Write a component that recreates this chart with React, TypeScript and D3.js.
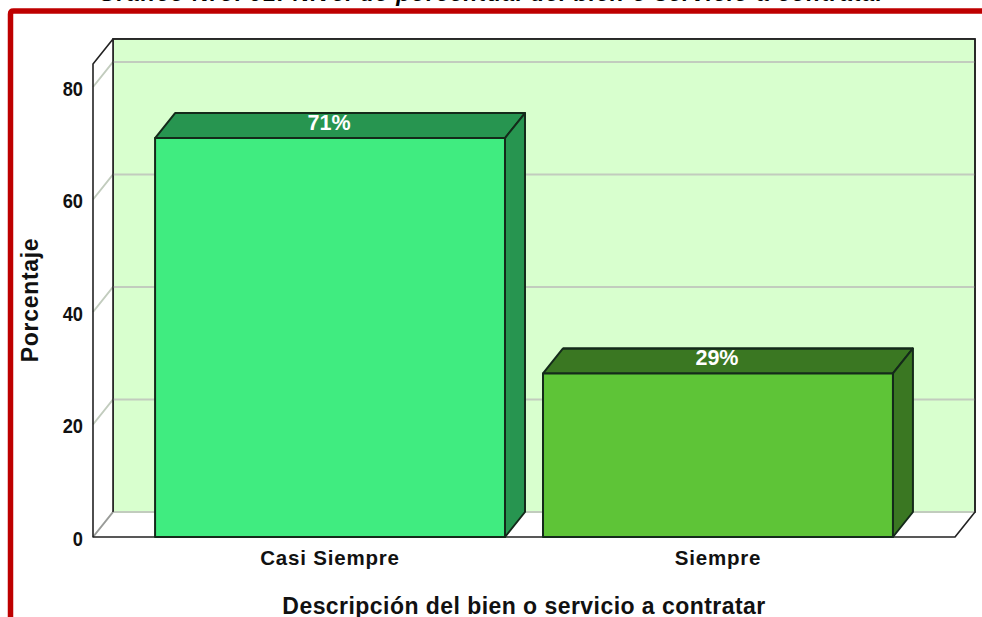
import React from "react";
import * as d3 from "d3";

const categories = ["Casi Siempre", "Siempre"];
const values = [70.93, 29.07];
const valueLabels = ["71%", "29%"];
const yTicks = [0, 20, 40, 60, 80];
const frontColors = ["#40EC80", "#5EC437"];
const sideColors = ["#279550", "#3A7722"];
const titleText = "Gráfico Nro. 01: Nivel de porcentual del bien o servicio a contratar";
const xTitle = "Descripción del bien o servicio a contratar";
const yTitle = "Porcentaje";

const FONT = "'Liberation Sans', Arial, sans-serif";
const x0 = 93, x1 = 955, floorY = 537;
const dx = 20, dy = -25;
const yMax = 84.1;

export default function App() {
  const y = d3.scaleLinear().domain([0, yMax]).range([floorY, floorY - 5.625 * yMax]);
  const x = d3.scaleBand<string>().domain(categories).range([x0, x1]).paddingInner(0.098).paddingOuter(0.16);
  const top = y(yMax);
  const pts = (p: [number, number][]) => p.map((q) => q.join(",")).join(" ");
  return (
    <svg width={982} height={617} style={{ position: "absolute", left: 0, top: 0, background: "#fff" }}>
      <text x={492} y={1} textAnchor="middle" fontFamily={FONT} fontWeight="bold" fontStyle="italic" fontSize={23} letterSpacing={0.95}>{titleText}</text>
      <path d="M10.5 617V14Q10.5 11 13.500 11H982" fill="none" stroke="#BE0000" strokeWidth={5.5} />

      {/* walls */}
      <rect x={x0 + dx} y={top + dy} width={x1 - x0} height={floorY - top} fill="#D8FFCE" stroke="#222" strokeWidth={1.6} />
      <polygon points={pts([[x0, floorY], [x0 + dx, floorY + dy], [x1 + dx, floorY + dy], [x1, floorY]])} fill="#fff" stroke="none" />
      <polygon points={pts([[x0, top], [x0 + dx, top + dy], [x0 + dx, floorY + dy], [x0, floorY]])} fill="#fff" stroke="none" />

      {yTicks.map((t) => (
        <polyline key={t} points={pts([[x0, y(t)], [x0 + dx, y(t) + dy], [x1 + dx, y(t) + dy]])} fill="none" stroke="#C2CCBE" strokeWidth={2} />
      ))}
      <polyline points={pts([[x0, floorY], [x0 + dx, floorY + dy]])} stroke="#999" strokeWidth={1.6} fill="none" />
      <polyline points={pts([[x0 + dx, floorY + dy], [x0 + dx, top + dy], [x1 + dx, top + dy], [x1 + dx, floorY + dy], [x1, floorY], [x0, floorY], [x0, top], [x0 + dx, top + dy]])} fill="none" stroke="#222" strokeWidth={1.6} strokeLinejoin="round" />

      {yTicks.map((t) => (
        <text key={t} transform={`translate(${x0 - 10},${y(t) + 8.5}) scale(0.87,1)`} textAnchor="end" fontFamily={FONT} fontWeight="bold" fontSize={21} fill="#111">{t}</text>
      ))}

      {categories.map((c, i) => {
        const l = x(c)!, r = l + x.bandwidth(), t = y(values[i]);
        return (
          <g key={c} stroke="#142A1A" strokeWidth={2} strokeLinejoin="round">
            <polygon points={pts([[l, t], [l + dx, t + dy], [r + dx, t + dy], [r, t]])} fill={sideColors[i]} />
            <polygon points={pts([[r, t], [r + dx, t + dy], [r + dx, floorY + dy], [r, floorY]])} fill={sideColors[i]} />
            <rect x={l} y={t} width={x.bandwidth()} height={floorY - t} fill={frontColors[i]} />
            <text x={(l + r) / 2 - 1} y={t - 8.500} textAnchor="middle" fontFamily={FONT} fontWeight="bold" fontSize={21.5} fill="#fff" stroke="none">{valueLabels[i]}</text>
            <line x1={l + dx} x2={r + dx} y1={t + dy} y2={t + dy} />
            <text x={(l + r) / 2} y={floorY + 28} textAnchor="middle" fontFamily={FONT} fontWeight="bold" fontSize={20.5} letterSpacing={0.8} fill="#111" stroke="none">{c}</text>
          </g>
        );
      })}

      <text x={524} y={614} textAnchor="middle" fontFamily={FONT} fontWeight="bold" fontSize={23} letterSpacing={0.45} fill="#111">{xTitle}</text>
      <text transform="translate(38,300) rotate(-90)" textAnchor="middle" fontFamily={FONT} fontWeight="bold" fontSize={23} letterSpacing={0.7} fill="#111">{yTitle}</text>
    </svg>
  );
}
